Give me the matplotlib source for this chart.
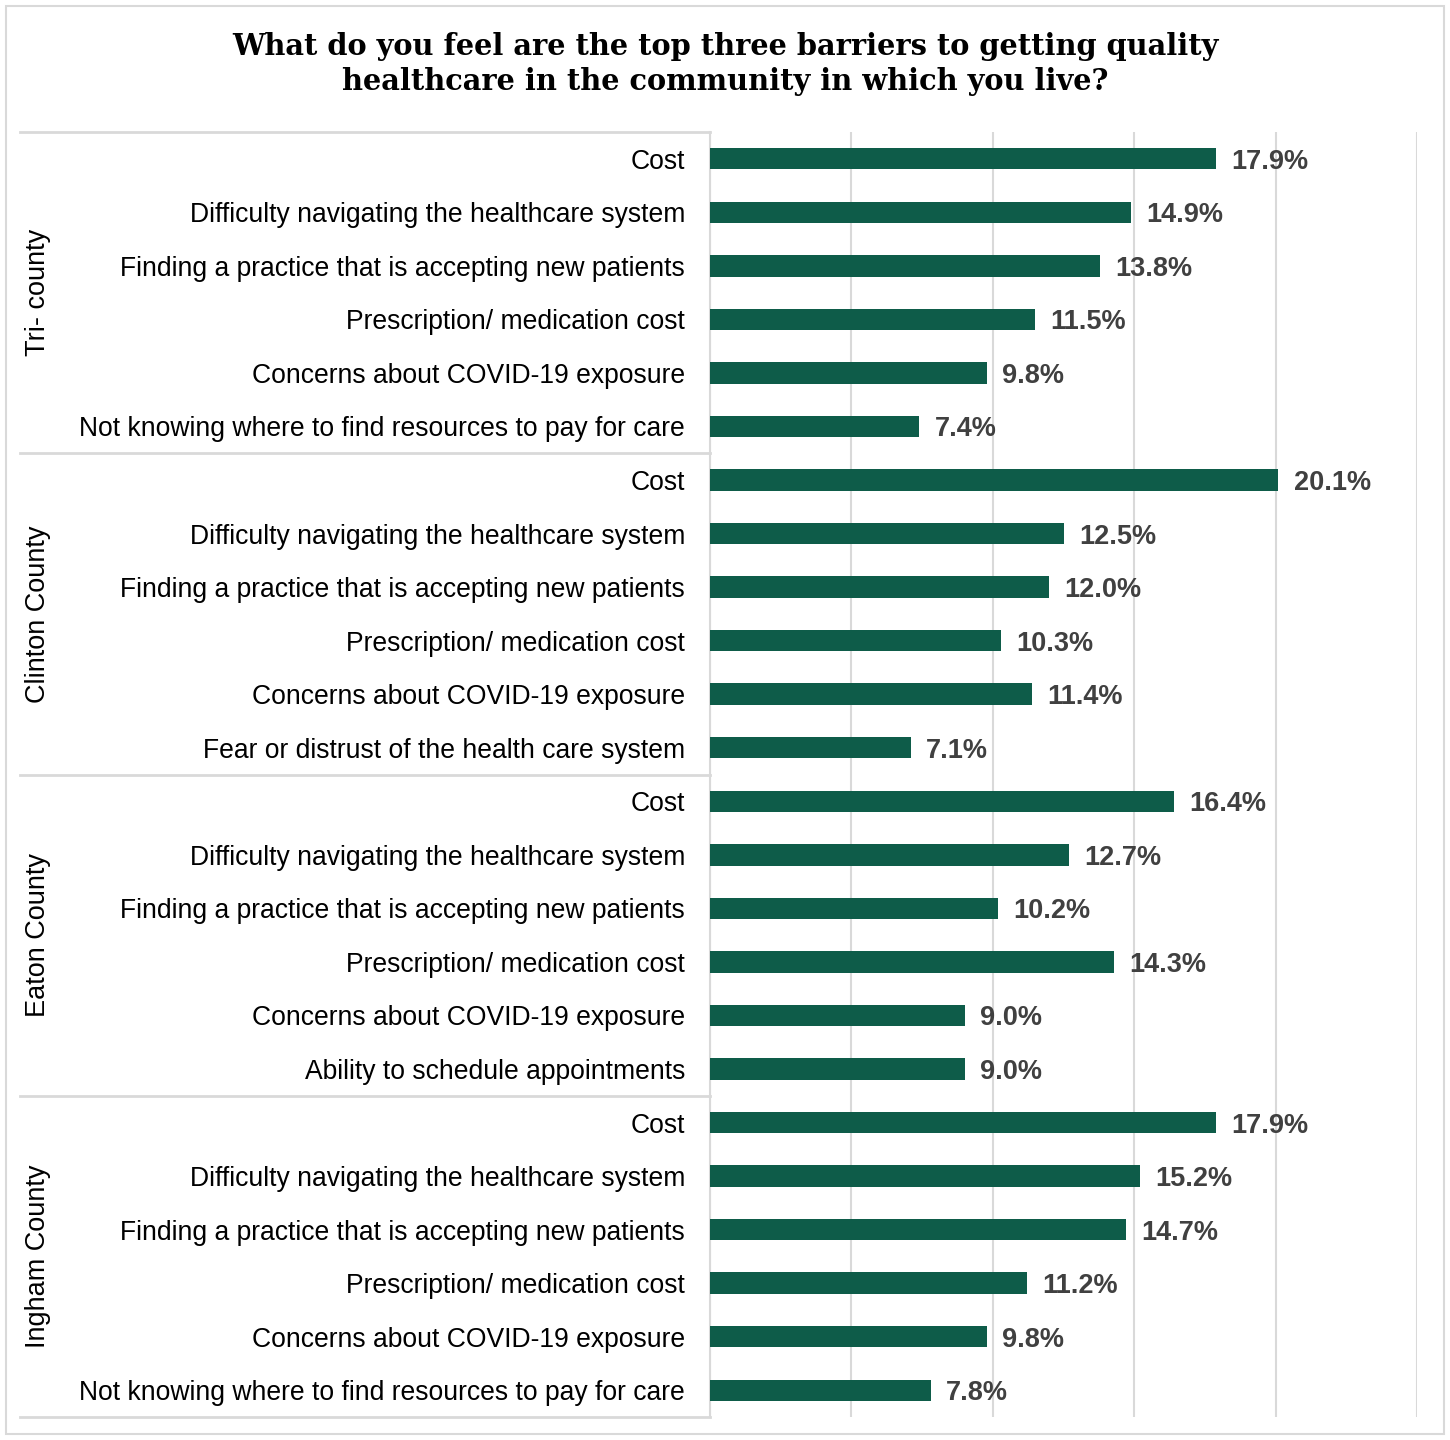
import numpy as np
import matplotlib
matplotlib.use("Agg")
from matplotlib import pyplot as plt
from matplotlib.lines import Line2D
from matplotlib.patches import Rectangle
import matplotlib.transforms as mtransforms

title = ("What do you feel are the top three barriers to getting quality\n"
         "healthcare in the community in which you live?")

groups = ["Tri- county", "Clinton County", "Eaton County", "Ingham County"]

tri_labels = ["Cost", "Difficulty navigating the healthcare system",
              "Finding a practice that is accepting new patients",
              "Prescription/ medication cost", "Concerns about COVID-19 exposure",
              "Not knowing where to find resources to pay for care"]
clinton_labels = ["Cost", "Difficulty navigating the healthcare system",
                  "Finding a practice that is accepting new patients",
                  "Prescription/ medication cost", "Concerns about COVID-19 exposure",
                  "Fear or distrust of the health care system"]
eaton_labels = ["Cost", "Difficulty navigating the healthcare system",
                "Finding a practice that is accepting new patients",
                "Prescription/ medication cost", "Concerns about COVID-19 exposure",
                "Ability to schedule appointments"]
ingham_labels = ["Cost", "Difficulty navigating the healthcare system",
                 "Finding a practice that is accepting new patients",
                 "Prescription/ medication cost", "Concerns about COVID-19 exposure",
                 "Not knowing where to find resources to pay for care"]

tri_vals = [17.9, 14.9, 13.8, 11.5, 9.8, 7.4]
clinton_vals = [20.1, 12.5, 12.0, 10.3, 11.4, 7.1]
eaton_vals = [16.4, 12.7, 10.2, 14.3, 9.0, 9.0]
ingham_vals = [17.9, 15.2, 14.7, 11.2, 9.8, 7.8]

all_labels = [tri_labels, clinton_labels, eaton_labels, ingham_labels]
all_vals = [tri_vals, clinton_vals, eaton_vals, ingham_vals]

bar_color = "#0e5c49"
grid_color = "#d9d9d9"

plt.rcParams['font.family'] = ['Liberation Sans', 'DejaVu Sans']

fig = plt.figure(figsize=(14.5, 14.4), dpi=100)
ax = fig.add_axes([710 / 1450, 1 - 1417 / 1440, (1417 - 710) / 1450, (1417 - 132) / 1440])

labels = [l for grp in all_labels for l in grp]
vals = [v for grp in all_vals for v in grp]
y = np.arange(len(vals))

ax.barh(y, vals, height=0.4, color=bar_color, zorder=3)
for yi, v in zip(y, vals):
    ax.annotate(f"{v:.1f}%", (v, yi), xytext=(11, 0), textcoords="offset points",
                va="center_baseline", ha="left", fontsize=19.5, fontweight="bold",
                color="#404040")

ax.set_xlim(0, 25)
ax.set_ylim(len(vals) - 0.5, -0.5)
ax.set_xticks(np.arange(0, 26, 5))
ax.xaxis.grid(True, color=grid_color, linewidth=1.5, zorder=0)
ax.tick_params(axis="x", length=0, labelbottom=False)
ax.set_yticks(y)
ax.set_yticklabels(labels, fontsize=19.1)
ax.tick_params(axis="y", length=0, pad=18)
for s in ["top", "right", "bottom"]:
    ax.spines[s].set_visible(False)
ax.spines["left"].set_color(grid_color)
ax.spines["left"].set_linewidth(1.5)

# group separators and group names
trans = mtransforms.blended_transform_factory(fig.transFigure, ax.transData)
start = 0
for name, grp in zip(groups, all_vals):
    n = len(grp)
    fig.add_artist(Line2D([20 / 1450, 710 / 1450], [start - 0.5, start - 0.5],
                          transform=trans, color=grid_color, linewidth=2))
    fig.text(38 / 1450, start + (n - 1) / 2, name, transform=trans, rotation=90,
             ha="center", va="center", fontsize=19.5)
    start += n
fig.add_artist(Line2D([20 / 1450, 710 / 1450], [start - 0.5, start - 0.5],
                      transform=trans, color=grid_color, linewidth=2))

fig.text(0.5, 1 - 64 / 1440, title, ha="center", va="center", fontsize=20.8,
         fontweight="bold", family=["DejaVu Serif"], linespacing=1.27)

fig.add_artist(Rectangle((6 / 1450, 6 / 1440), 1 - 12 / 1450, 1 - 12 / 1440,
                         transform=fig.transFigure, fill=False,
                         edgecolor=grid_color, linewidth=1.5))

fig.savefig("out.png", dpi=100)
